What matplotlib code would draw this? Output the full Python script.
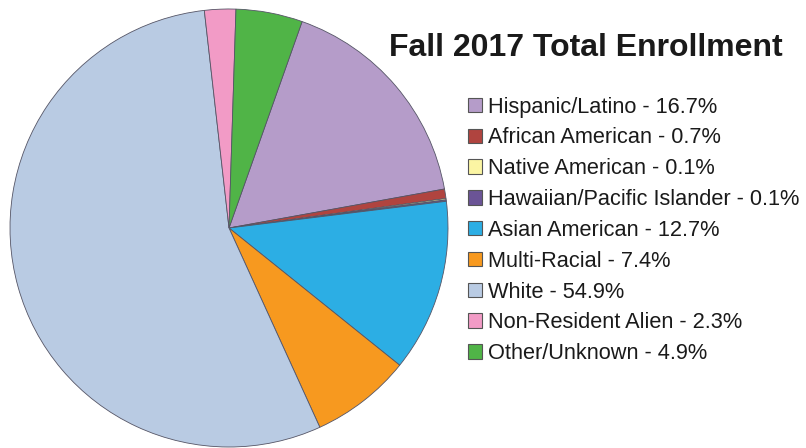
import matplotlib.pyplot as plt
from matplotlib.patches import Patch
from matplotlib import font_manager

labels = ['Hispanic/Latino', 'African American', 'Native American',
          'Hawaiian/Pacific Islander', 'Asian American', 'Multi-Racial',
          'White', 'Non-Resident Alien', 'Other/Unknown']
shares = [16.7, 0.7, 0.1, 0.1, 12.7, 7.4, 54.9, 2.3, 4.9]
colors = ['#B59CC9', '#B0443F', '#FBF5A3', '#6B5496', '#2CAEE4',
          '#F7991F', '#B9CBE3', '#F29BC6', '#50B447']

# condensed face if the system has one, otherwise plain Liberation Sans
names = {f.name for f in font_manager.fontManager.ttflist}
if 'Liberation Sans Narrow' in names:
    leg_font, leg_size = 'Liberation Sans Narrow', 17
else:
    leg_font, leg_size = 'Liberation Sans', 15.7

fig = plt.figure(figsize=(8.06, 4.48), dpi=100)
W, H = 806, 448
ax = fig.add_axes([10 / W, 1 / H, 438 / W, 438 / H])
ax.pie(shares, colors=colors, startangle=70.5, counterclock=False,
       wedgeprops=dict(edgecolor='#555566', linewidth=0.6))
ax.set_aspect('equal')
ax.set_xlim(-1, 1)
ax.set_ylim(-1, 1)
ax.axis('off')

fig.text(586 / W, 1 - 48 / H, 'Fall 2017 Total Enrollment', ha='center', va='center',
         fontsize=23, fontweight='bold', family='Liberation Sans', color='#1a1a1a')

handles = [Patch(facecolor=c, edgecolor='#555555', linewidth=0.8) for c in colors]
leg_labels = [f'{l} - {s}%' for l, s in zip(labels, shares)]
fig.legend(handles, leg_labels, loc='upper left', bbox_to_anchor=(448 / W, 1 - 77 / H),
           frameon=False, prop=dict(family=leg_font, size=leg_size), handlelength=0.65,
           handleheight=0.65, handletextpad=0.3, labelspacing=0.45, labelcolor='#1a1a1a')

fig.savefig('out.png', dpi=100)
